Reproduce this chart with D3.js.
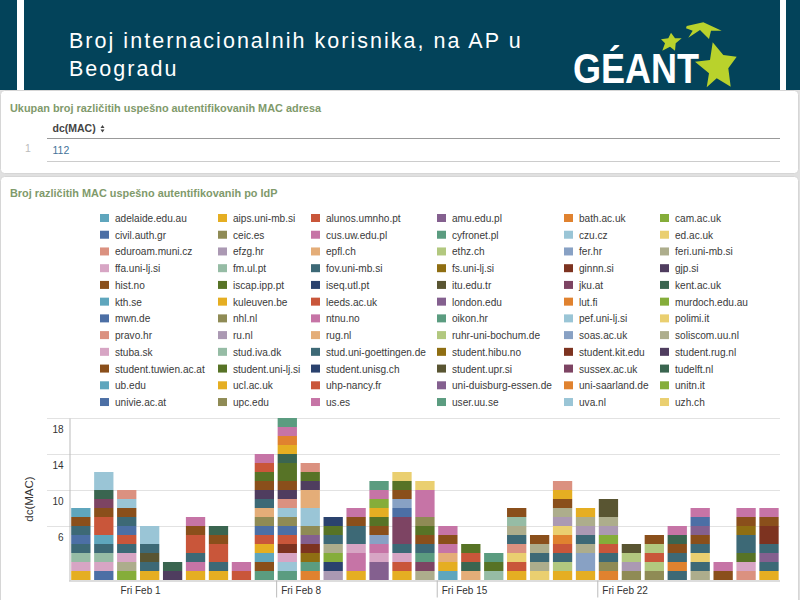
<!DOCTYPE html>
<html>
<head>
<meta charset="utf-8">
<script src="https://cdn.jsdelivr.net/npm/d3@7"></script>
<style>
  html, body { margin: 0; padding: 0; background: #fff; }
  svg { display: block; font-family: "Liberation Sans", Arial, sans-serif; }
  .grid line { stroke: #e2e2e2; }
  .y-axis text, .x-axis text { font-size: 10px; fill: #333; }
  .legend-label { font-size: 10.1px; fill: #3a3a3a; }
  .panel { fill: #fff; stroke: #d6d6d6; }
  .panel-title { font-size: 10.9px; font-weight: bold; fill: #7f9a6b; }
</style>
</head>
<body>
<svg id="slide" width="800" height="600"></svg>
<script>
const titleLines = ["Broj internacionalnih korisnika, na AP u", "Beogradu"];
const panelTitles = ["Ukupan broj različitih uspešno autentifikovanih MAC adresa", "Broj različitih MAC uspešno autentifikovanih po IdP"];
const tableHeader = "dc(MAC)";
const tableRow = ["1", "112"];

const yTicks = [6, 10, 14, 18];
const xTickDates = ["2013-02-01", "2013-02-08", "2013-02-15", "2013-02-22"];
const firstDay = "2013-01-30";

// legend order, filled across the rows
const domains = [
  "adelaide.edu.au", "aips.uni-mb.si", "alunos.umnho.pt", "amu.edu.pl", "bath.ac.uk", "cam.ac.uk",
  "civil.auth.gr", "ceic.es", "cus.uw.edu.pl", "cyfronet.pl", "czu.cz", "ed.ac.uk",
  "eduroam.muni.cz", "efzg.hr", "epfl.ch", "ethz.ch", "fer.hr", "feri.uni-mb.si",
  "ffa.uni-lj.si", "fm.ul.pt", "fov.uni-mb.si", "fs.uni-lj.si", "ginnn.si", "gjp.si",
  "hist.no", "iscap.ipp.pt", "iseq.utl.pt", "itu.edu.tr", "jku.at", "kent.ac.uk",
  "kth.se", "kuleuven.be", "leeds.ac.uk", "london.edu", "lut.fi", "murdoch.edu.au",
  "mwn.de", "nhl.nl", "ntnu.no", "oikon.hr", "pef.uni-lj.si", "polimi.it",
  "pravo.hr", "ru.nl", "rug.nl", "ruhr-uni-bochum.de", "soas.ac.uk", "soliscom.uu.nl",
  "stuba.sk", "stud.iva.dk", "stud.uni-goettingen.de", "student.hibu.no", "student.kit.edu", "student.rug.nl",
  "student.tuwien.ac.at", "student.uni-lj.si", "student.unisg.ch", "student.upr.si", "sussex.ac.uk", "tudelft.nl",
  "ub.edu", "ucl.ac.uk", "uhp-nancy.fr", "uni-duisburg-essen.de", "uni-saarland.de", "unitn.it",
  "univie.ac.at", "upc.edu", "us.es", "user.uu.se", "uva.nl", "uzh.ch"
];

const palette = [
  "#5fa6bd", "#e5ae22", "#c9563a", "#84608f", "#e0822f", "#85ad3a",
  "#4c6fa5", "#8f8b55", "#c674a6", "#5b9c80", "#9ac5d6", "#eacf70",
  "#db9180", "#ab99b3", "#e4ad78", "#b2c87f", "#88a1c4", "#adad8c",
  "#d7a5c4", "#96bca5", "#3d6976", "#8f6e12", "#7d3320", "#4f3d5f",
  "#8a4f1b", "#577326", "#2a426e", "#595532", "#7d4463", "#3a6550"
];

// one list per day, bottom of the bar first: index into domains, repeated once per MAC.
// 72 is one more series past the end of the clipped legend
const dayStacks = [
  [1, 18, 19, 20, 36, 50, 54, 60],
  [6, 18, 19, 20, 30, 32, 32, 54, 58, 59, 70, 70],
  [5, 17, 18, 20, 32, 36, 50, 54, 70, 72],
  [1, 20, 27, 50, 70, 70],
  [23, 29],
  [1, 8, 20, 32, 32, 54, 68],
  [1, 20, 32, 32, 54, 59],
  [32, 38],
  [9, 24, 30, 31, 32, 36, 37, 44, 50, 53, 54, 55, 62, 68],
  [9, 10, 18, 22, 32, 36, 37, 40, 42, 53, 54, 55, 55, 59, 61, 64, 68, 69],
  [4, 9, 21, 22, 33, 37, 40, 40, 44, 44, 53, 55, 72],
  [13, 26, 35, 47, 50, 55, 56],
  [1, 8, 8, 18, 20, 20, 24, 38],
  [3, 3, 18, 38, 46, 54, 55, 61, 65, 68, 69],
  [1, 2, 18, 20, 28, 28, 28, 36, 46, 54, 55, 71],
  [17, 28, 39, 50, 54, 55, 67, 68, 68, 68, 71],
  [0, 1, 14, 38, 54, 68],
  [14, 29, 32, 55],
  [19, 25, 39],
  [1, 2, 11, 12, 20, 47, 49, 54],
  [11, 17, 20, 47, 54],
  [1, 15, 20, 32, 34, 41, 43, 47, 54, 61, 72],
  [1, 16, 16, 17, 20, 43, 47, 61],
  [4, 7, 20, 32, 35, 43, 47, 57, 57],
  [7, 13, 15, 27],
  [7, 15, 32, 45, 54],
  [20, 34, 50, 54, 59, 68],
  [17, 20, 41, 50, 54, 63, 66, 68],
  [24, 38],
  [12, 18, 25, 50, 50, 51, 54, 68],
  [1, 20, 33, 50, 52, 52, 54, 68]
];

const svg = d3.select("#slide");

// slide header
svg.append("rect").attr("width", 800).attr("height", 92).attr("fill", "#fff");
svg.append("rect").attr("x", 24).attr("width", 756).attr("height", 92).attr("fill", "#03435a");
svg.append("rect").attr("width", 17).attr("height", 92).attr("fill", "#03435a");
svg.append("rect").attr("x", 786).attr("width", 14).attr("height", 92).attr("fill", "#03435a");

svg.selectAll(".slide-title")
  .data(titleLines)
  .enter().append("text")
  .attr("class", "slide-title")
  .attr("x", 69)
  .attr("y", (d, i) => 48 + i * 28)
  .attr("fill", "#fff")
  .style("font-size", "21.5px")
  .style("letter-spacing", "2.03px")
  .text(d => d);

// logo
const logo = svg.append("g");
logo.append("text")
  .attr("x", 573).attr("y", 83)
  .attr("fill", "#fff")
  .attr("textLength", 126).attr("lengthAdjust", "spacingAndGlyphs")
  .style("font-size", "42px").style("font-weight", "bold")
  .text("GÉANT");
logo.append("path").attr("fill", "#b9d22c")
  .attr("d", "M712.7 42.3 L723.3 55 L736.7 56.7 L728.3 68.3 L730.7 86.7 L716.7 78.3 L706.7 87.3 L709 73.3 L695 61.7 L710 60 Z");
logo.append("path").attr("fill", "#b9d22c")
  .attr("d", "M671 32.7 L675 38.3 L681.7 38.3 L675.7 43.3 L675 50.7 L670 46.7 L662.3 50.7 L665 43.3 L661 39.3 L668.3 38.3 Z");
logo.append("path").attr("fill", "#b9d22c")
  .attr("d", "M686.7 26 L703.3 22.3 L721.7 30.7 L711 30.7 L709 39 L700 30 L688.3 37.7 L692.7 30.7 L686 28.3 Z");

// panels
svg.append("rect").attr("x", 0).attr("y", 90).attr("width", 800).attr("height", 510).attr("fill", "#e0e0e0");
svg.append("rect").attr("class", "panel").attr("x", 0.5).attr("y", 90.5).attr("width", 798).attr("height", 83).attr("rx", 4);
svg.append("rect").attr("class", "panel").attr("x", 0.5).attr("y", 176.5).attr("width", 798).attr("height", 430).attr("rx", 4);

svg.selectAll(".panel-title")
  .data(panelTitles)
  .enter().append("text")
  .attr("class", "panel-title")
  .attr("x", 10)
  .attr("y", (d, i) => [112, 197][i])
  .text(d => d);

// results table
svg.append("text").attr("x", 52.5).attr("y", 132).style("font-size", "10.5px").style("font-weight", "bold").attr("fill", "#444").text(tableHeader);
svg.append("path").attr("fill", "#444").attr("d", "M100.5 128 L102.5 125 L104.5 128 Z M100.5 129.5 L104.5 129.5 L102.5 132.5 Z");
svg.append("line").attr("x1", 47).attr("x2", 780).attr("y1", 138.5).attr("y2", 138.5).attr("stroke", "#999");
svg.append("text").attr("x", 25).attr("y", 152).style("font-size", "10.5px").attr("fill", "#bbb").text(tableRow[0]);
svg.append("text").attr("x", 52.5).attr("y", 154).style("font-size", "10.5px").attr("fill", "#44749a").text(tableRow[1]);
svg.append("line").attr("x1", 47).attr("x2", 780).attr("y1", 161.5).attr("y2", 161.5).attr("stroke", "#ccc");

// legend
const legendColumns = [100, 218, 311, 437, 564, 660];
const legend = svg.append("g").selectAll("g")
  .data(domains)
  .enter().append("g")
  .attr("transform", (d, i) => `translate(${legendColumns[i % 6]},${214 + Math.floor(i / 6) * 16.73})`);
legend.append("rect")
  .attr("width", 9).attr("height", 8)
  .attr("fill", (d, i) => palette[i % palette.length]);
legend.append("text")
  .attr("class", "legend-label")
  .attr("x", 15).attr("y", 8)
  .text(d => d);

// stacked bars
const parseDay = d3.utcParse("%Y-%m-%d");
const days = dayStacks.map((d, i) => d3.utcDay.offset(parseDay(firstDay), i));
const seriesKeys = d3.range(domains.length + 1);
const rows = dayStacks.map((list, i) => {
  const row = { day: days[i] };
  seriesKeys.forEach(k => { row[k] = list.filter(v => v === k).length; });
  return row;
});

const x = d3.scaleTime()
  .domain([days[0], d3.utcDay.offset(days[days.length - 1], 1)])
  .range([71.2, 782.3]);
const y = d3.scaleLinear().domain([0, 18]).range([580, 418]);
const barWidth = 19.3;

const color = k => palette[k % palette.length];
const layers = d3.stack().keys(seriesKeys)(rows);

svg.append("g").attr("class", "grid").selectAll("line")
  .data(yTicks)
  .enter().append("line")
  .attr("x1", 47).attr("x2", 780)
  .attr("y1", d => y(d) + 0.5).attr("y2", d => y(d) + 0.5);

const layerG = svg.append("g").selectAll("g")
  .data(layers)
  .enter().append("g")
  .attr("fill", d => color(d.key));
layerG.selectAll("rect")
  .data(d => d.filter(s => s[1] > s[0]))
  .enter().append("rect")
  .attr("x", s => x(s.data.day))
  .attr("width", barWidth)
  .attr("y", s => y(s[1]))
  .attr("height", s => y(s[0]) - y(s[1]));

const yAxis = svg.append("g")
  .attr("class", "y-axis")
  .attr("transform", "translate(69.5,0)")
  .call(d3.axisLeft(y).tickValues(yTicks).tickFormat(d3.format("d")).tickSize(0));
yAxis.select(".domain").attr("stroke", "#bbb");
yAxis.selectAll("text").attr("dy", "1.4em").attr("x", -6);

const xAxis = svg.append("g")
  .attr("class", "x-axis")
  .attr("transform", "translate(0,580.5)")
  .call(d3.axisBottom(x)
    .tickValues(xTickDates.map(parseDay))
    .tickFormat(d3.utcFormat("%a %b %-d"))
    .tickSize(17)
    .tickSizeOuter(0));
xAxis.select(".domain").attr("stroke", "#bbb").attr("d", "M69,0.5H780");
// the line of the first tick does not show in the picture
xAxis.selectAll(".tick line")
  .attr("x1", -1.5).attr("x2", -1.5)
  .attr("stroke", "#bbb")
  .attr("display", (d, i) => i === 0 ? "none" : null);
xAxis.selectAll("text").attr("text-anchor", "start").attr("x", 3).attr("y", 6).attr("dy", "0.71em");

svg.append("text")
  .attr("transform", "translate(33,499) rotate(-90)")
  .attr("text-anchor", "middle")
  .style("font-size", "11.5px")
  .attr("fill", "#333")
  .text("dc(MAC)");
</script>
</body>
</html>
